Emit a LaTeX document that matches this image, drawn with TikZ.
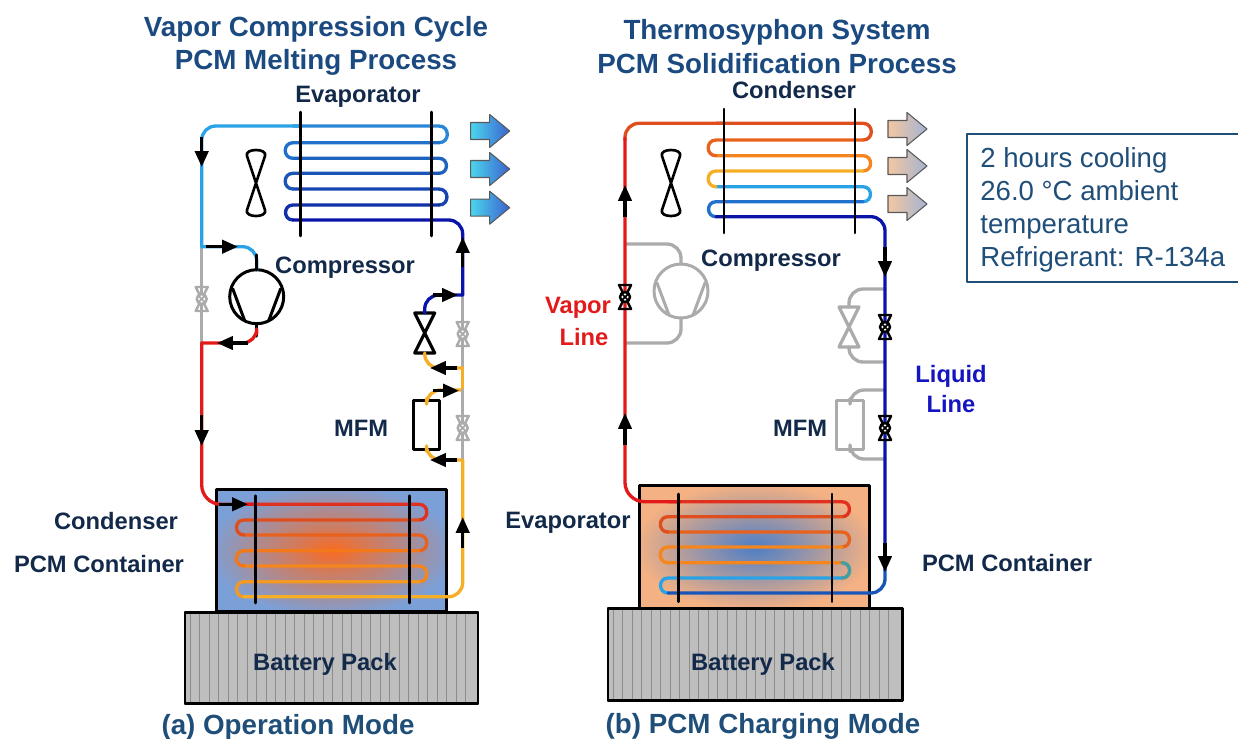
\documentclass[tikz,border=0pt]{standalone}
\usepackage{fontspec}
\setmainfont{Liberation Sans}
\usetikzlibrary{arrows.meta}
\definecolor{ink}{HTML}{12294A}
\definecolor{titleblue}{HTML}{1B4A80}
\definecolor{boxblue}{HTML}{1F4E79}
\definecolor{redline}{HTML}{E21A1A}
\definecolor{liquidblue}{HTML}{1414C0}
\definecolor{idle}{HTML}{ABABAB}
\definecolor{sky}{HTML}{29A3E6}
\definecolor{bl1}{HTML}{2A86D6}
\definecolor{bl2}{HTML}{2070CC}
\definecolor{bl3}{HTML}{1E64BE}
\definecolor{bl4}{HTML}{1A55B8}
\definecolor{bl5}{HTML}{1545B0}
\definecolor{bl6}{HTML}{1030A8}
\definecolor{bl7}{HTML}{0A14A8}
\definecolor{ho1}{HTML}{E03020}
\definecolor{ho2}{HTML}{DF4E1E}
\definecolor{ho3}{HTML}{E8621E}
\definecolor{ho4}{HTML}{F2781A}
\definecolor{ho5}{HTML}{F5861E}
\definecolor{ho6}{HTML}{F59A20}
\definecolor{ho7}{HTML}{F5AE25}
\definecolor{teal}{HTML}{3FA0A8}
\definecolor{packgrey}{HTML}{BEBEBE}
\definecolor{packline}{HTML}{8C8C8C}
\definecolor{meltout}{HTML}{7BA0D8}
\definecolor{meltin}{HTML}{FA6A22}
\definecolor{chargeout}{HTML}{F4B183}
\definecolor{chargein}{HTML}{4C7EC6}
\definecolor{coldleft}{HTML}{4BD5EE}
\definecolor{coldright}{HTML}{3B62CE}
\definecolor{warmleft}{HTML}{F3C7A0}
\definecolor{warmright}{HTML}{A4B4D4}
\pgfdeclareradialshading{melting}{\pgfpoint{0bp}{0bp}}{color(0bp)=(meltin); color(27bp)=(meltout); color(50bp)=(meltout)}
\pgfdeclareradialshading{charging}{\pgfpoint{0bp}{0bp}}{color(0bp)=(chargein); color(26bp)=(chargeout); color(50bp)=(chargeout)}

\begin{document}
\begin{tikzpicture}[
  x=0.02cm,y=-0.02cm,line cap=round,line join=round,
  pipe/.style={line width=1.9pt,rounded corners=8pt},
  tube/.style={line width=1.9pt},
  flow/.style={line width=1.9pt,draw=black,line cap=butt,-{Triangle[length=9pt,width=7.5pt]}},
  bar/.style={line width=1.5pt,draw=black},
  vessel/.style={draw=black,line width=1.7pt,minimum width=131pt,minimum height=69.5pt,inner sep=0pt},
  pack/.style={draw=black,line width=1.7pt,fill=packgrey},
  mfm/.style={line width=1.7pt,fill=white,minimum width=15.3pt,minimum height=28.3pt,inner sep=0pt},
  title/.style={font=\fontsize{15.8}{18}\selectfont\bfseries,text=titleblue,inner sep=0pt},
  lab/.style={font=\fontsize{13.5}{16}\selectfont\bfseries,text=ink,inner sep=0pt},
  coldblast/.style={draw=black!65,line width=0.6pt,left color=coldleft,right color=coldright},
  warmblast/.style={draw=black!65,line width=0.6pt,left color=warmleft,right color=warmright},
  valve/.pic={
    \draw[pic actions,line width=1.4pt] (-6,-12) -- (6,-12) -- (-6,12) -- (6,12) -- cycle;
    \draw[pic actions,line width=1.4pt,fill=white] (0,0) circle (5);
    \draw[pic actions,line width=1pt] (-3.5,-3.5) -- (3.5,3.5) (3.5,-3.5) -- (-3.5,3.5);
  },
  expvalve/.pic={
    \draw[pic actions,line width=1.8pt] (-10,-20) -- (10,-20) -- (-10,20) -- (10,20) -- cycle;
    \coordinate (-n) at (0,-20);
    \coordinate (-s) at (0,20);
  },
  fan/.pic={
    \draw[line width=1.5pt] (0,0) -- (-9,-27) .. controls (-12,-35) and (12,-35) .. (9,-27)
      -- (-9,27) .. controls (-12,35) and (12,35) .. (9,27) -- cycle;
  },
  compressor/.pic={
    \draw[pic actions,line width=1.7pt] (0,0) circle (27);
    \draw[pic actions,line width=1.7pt] (-24,-8) -- (-12,24) (24,-8) -- (12,24);
    \coordinate (-n) at (0,-27);
    \coordinate (-s) at (0,27);
  },
  blast/.pic={
    \path[pic actions] (0,-8.5) -- (19,-8.5) -- (19,-16.5) -- (39,0) -- (19,16.5)
      -- (19,8.5) -- (0,8.5) -- cycle;
  }
]
\useasboundingbox (0,0) rectangle (1238,738);

% Titles and captions
\node[title] (titleA) at (316,29) {Vapor Compression Cycle};
\node[title] (titleB) at (316,62) {PCM Melting Process};
\node[title] (titleC) at (777,32) {Thermosyphon System};
\node[title] (titleD) at (777,64) {PCM Solidification Process};
\node[title,text=boxblue] (capA) at (288,727) {(a) Operation Mode};
\node[title,text=boxblue] (capB) at (763,726) {(b) PCM Charging Mode};

% Battery packs and PCM containers
\draw[pack] (185,612) rectangle (478,703);
\draw[pack] (608,608) rectangle (902,700);
\foreach \i in {0,...,29} {
  \draw[packline,line width=0.5pt] (190+9.5*\i,613) -- (190+9.5*\i,702);
  \draw[packline,line width=0.5pt] (613+9.5*\i,609) -- (613+9.5*\i,699);
}
\node[vessel,shading=melting] (tankA) at (331.8,550.5) {};
\node[vessel,shading=charging] (tankB) at (754.5,547) {};
\draw[pack,fill=none] (185,612) rectangle (478,703);
\draw[pack,fill=none] (608,608) rectangle (902,700);
\node[lab] (packA) at (325,664) {Battery Pack};
\node[lab] (packB) at (763,664) {Battery Pack};

% (a) evaporator coil
\foreach \ya/\yb/\cc in {126/142.7/bl1,158.3/173.3/bl3,189/205/bl5}
  \draw[tube,draw=\cc] (293,\ya) -- (439,\ya) to[out=0,in=0,looseness=1.7] (439,\yb);
\foreach \ya/\yb/\cc in {142.7/158.3/bl2,173.3/189/bl4,205/220/bl6}
  \draw[tube,draw=\cc] (439,\ya) -- (293,\ya) to[out=180,in=180,looseness=1.7] (293,\yb);

% (a) condenser coil
\foreach \ya/\yb/\cc in {504.3/520/ho1,535/550.7/ho3,566/581.7/ho5}
  \draw[tube,draw=\cc] (244,\ya) -- (419,\ya) to[out=0,in=0,looseness=1.7] (419,\yb);
\foreach \ya/\yb/\cc in {520/535/ho2,550.7/566/ho4,581.7/596.7/ho6}
  \draw[tube,draw=\cc] (419,\ya) -- (244,\ya) to[out=180,in=180,looseness=1.7] (244,\yb);

% (b) condenser coil
\foreach \ya/\yb/\cc in {123.3/140/ho2,155.7/171/ho5,186.7/201.7/sky}
  \draw[tube,draw=\cc] (716,\ya) -- (863,\ya) to[out=0,in=0,looseness=1.7] (863,\yb);
\foreach \ya/\yb/\cc in {140/155.7/ho3,171/186.7/ho7,201.7/216.7/bl2}
  \draw[tube,draw=\cc] (863,\ya) -- (716,\ya) to[out=180,in=180,looseness=1.7] (716,\yb);

% (b) evaporator coil
\foreach \ya/\yb/\cc in {501.7/516.7/ho1,532/547/ho3,562.7/578/ho5}
  \draw[tube,draw=\cc] (668,\ya) -- (842,\ya) to[out=0,in=0,looseness=1.7] (842,\yb);
\foreach \ya/\yb/\cc in {516.7/532/ho2,547/562.7/ho5,578/593/sky}
  \draw[tube,draw=\cc] (842,\ya) -- (668,\ya) to[out=180,in=180,looseness=1.7] (668,\yb);
\draw[tube,draw=teal] (842,562.7) to[out=0,in=0,looseness=1.7] (842,578);

% (a) hardware
\coordinate (sucA) at (201.7,246.7);
\coordinate (disA) at (201.7,343);
\coordinate (upA) at (462.7,295);
\coordinate (lowA) at (462.7,368);
\coordinate (inA) at (462.7,390);
\coordinate (outA) at (462.7,460);
\pic[draw=black] (compA) at (256.7,296.7) {compressor};
\pic[draw=black] (expA) at (424.7,333) {expvalve};
\node[draw=black,mfm] (mfmA) at (426.5,425) {};
\pic (fanA) at (256,183) {fan};

% (a) bypass lines, closed
\draw[pipe,draw=idle] (sucA) -- (disA);
\draw[pipe,draw=idle] (upA) -- (lowA);
\pic[draw=idle] (vA1) at (201.7,299) {valve};
\pic[draw=idle] (vA2) at (462.7,334) {valve};

% (a) refrigerant loop
\draw[pipe,draw=sky] (sucA) |- (300,126);
\draw[pipe,draw=sky] (sucA) -| (compA-n);
\draw[line width=1.9pt] (256.7,255) -- (compA-n) (compA-s) -- (256.7,336);
\draw[pipe,draw=redline] (256.7,334) |- (disA);
\draw[pipe,draw=redline,rounded corners=11pt] (disA) |- (255,504.3);
\draw[pipe,draw=bl7] (293,220) -| (upA);
\draw[pipe,draw=bl7] (upA) -| (expA-n);
\draw[pipe,draw=ho7] (expA-s) |- (lowA);
\draw[pipe,draw=ho7] (lowA) -- (inA);
\draw[pipe,draw=ho7] (mfmA.north) |- (inA);
\draw[pipe,draw=ho7] (mfmA.south) |- (outA);
\draw[pipe,draw=idle] (inA) -- (outA);
\draw[pipe,draw=ho7] (outA) |- (244,596.7);
\pic[draw=idle] (vA3) at (462.7,428) {valve};

% (a) flow arrows
\draw[flow] (201.7,137) -- (201.7,167);
\draw[flow] (206,246.7) -- (238,246.7);
\draw[flow] (248,343) -- (217,343);
\draw[flow] (201.7,415) -- (201.7,446);
\draw[flow] (219,504.3) -- (248,504.3);
\draw[flow] (462.7,267) -- (462.7,237);
\draw[flow] (433,295) -- (458,295);
\draw[flow] (457,368) -- (430,368);
\draw[flow] (433,390.7) -- (459,390.7);
\draw[flow] (457,460) -- (430,460);
\draw[flow] (462.7,548) -- (462.7,517);

% (a) coil plates
\foreach \x in {300.7,431.7}
  \draw[bar] (\x,112) -- (\x,236);
\foreach \x in {255.7,409.3}
  \draw[bar] (\x,495.7) -- (\x,603);

% (b) hardware, parked
\coordinate (sucB) at (625,244);
\coordinate (disB) at (625,343);
\coordinate (topB) at (885,289);
\coordinate (lowB) at (885,362);
\coordinate (inB) at (885,390);
\coordinate (outB) at (885,459);
\pic[draw=idle] (compB) at (681,291) {compressor};
\pic[draw=idle] (expB) at (849,327) {expvalve};
\node[draw=idle,mfm] (mfmB) at (850,425) {};
\pic (fanB) at (671,183) {fan};
\draw[pipe,draw=idle] (sucB) -| (compB-n);
\draw[pipe,draw=idle] (compB-s) |- (disB);
\draw[pipe,draw=idle] (topB) -| (expB-n);
\draw[pipe,draw=idle] (expB-s) |- (lowB);
\draw[pipe,draw=idle] (inB) -| (mfmB.north);
\draw[pipe,draw=idle] (mfmB.south) |- (outB);

% (b) thermosyphon loop
\draw[pipe,draw=ho2] (625,140) |- (724,123.3);
\draw[pipe,draw=redline,rounded corners=11pt] (625,138) |- (680,501.7);
\draw[pipe,draw=bl7] (716,216.7) -| (885,570);
\draw[pipe,draw=bl4] (885,570) |- (668,593);
\pic[draw=black] (vB1) at (625,297) {valve};
\pic[draw=black] (vB2) at (885,327) {valve};
\pic[draw=black] (vB3) at (885,428) {valve};

% (b) flow arrows
\draw[flow] (625,217) -- (625,185);
\draw[flow] (625,445) -- (625,413);
\draw[flow] (885,247) -- (885,277);
\draw[flow] (885,543) -- (885,572);

% (b) coil plates
\foreach \x in {724,855}
  \draw[bar] (\x,109) -- (\x,233);
\foreach \x in {678.7,832}
  \draw[bar] (\x,494) -- (\x,601.7);

% Air leaving the coils
\foreach \y in {131,169,207.7}
  \pic[coldblast] at (470.7,\y) {blast};
\foreach \y in {129,166,204}
  \pic[warmblast] at (888,\y) {blast};

% Labels
\node[lab] (evapA) at (358,97) {Evaporator};
\node[lab] (condB) at (794,90) {Condenser};
\node[lab] (compLabA) at (345,268) {Compressor};
\node[lab] (compLabB) at (771,261) {Compressor};
\node[lab] (mfmLabA) at (361,428) {MFM};
\node[lab] (mfmLabB) at (800,428) {MFM};
\node[lab] (condA) at (116,521) {Condenser};
\node[lab] (pcmA) at (99,564) {PCM Container};
\node[lab] (evapB) at (568,523) {Evaporator};
\node[lab] (pcmB) at (1007,563) {PCM Container};
\node[lab,text=redline] (vapor) at (578,308) {Vapor};
\node[lab,text=redline] (vaporLine) at (584,337) {Line};
\node[lab,text=liquidblue,align=center,font=\fontsize{13.5}{17.5}\selectfont\bfseries] (liquid) at (951,389) {Liquid\\Line};

% Test conditions
\draw[boxblue,line width=0.7pt,line cap=butt] (1238,134) -- (967,134) -- (967,282) -- (1238,282);
\node[anchor=north west,align=left,inner sep=0pt,text=boxblue,
  font=\fontsize{15.7}{18.7}\selectfont] (cond) at (980,147.5)
  {2 hours cooling\\26.0 °C ambient\\temperature\\Refrigerant: R-134a};
\end{tikzpicture}
\end{document}
